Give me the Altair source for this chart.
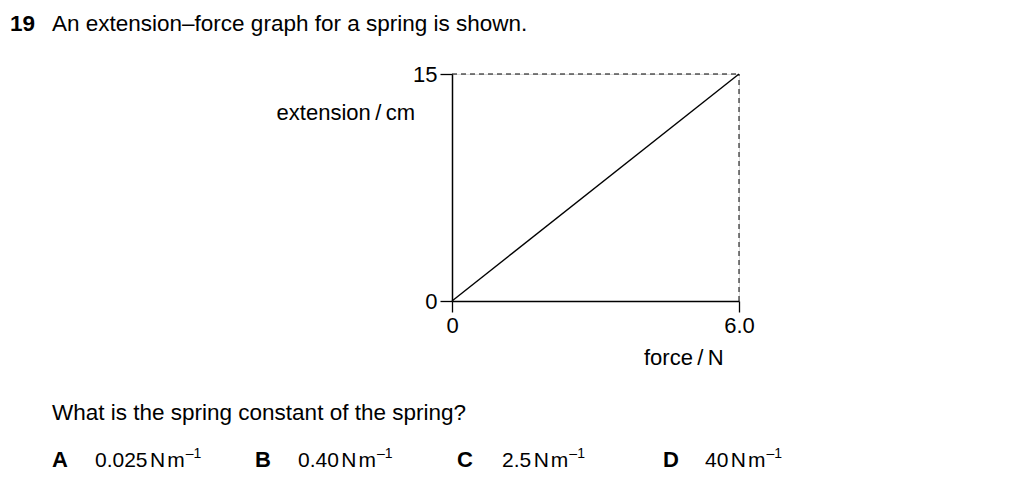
import altair as alt
import pandas as pd

# ---- data ----
force = [0.0, 6.0]            # N
extension = [0.0, 15.0]       # cm
x_ticks = [0.0, 6.0]
y_ticks = [0.0, 15.0]

q_number = "19"
q_title = "An extension\u2013force graph for a spring is shown."
y_title = "extension\u2009/\u2009cm"
x_title = "force\u2009/\u2009N"
question = "What is the spring constant of the spring?"
opt_letters = ["A", "B", "C", "D"]
opt_values = ["0.025", "0.40", "2.5", "40"]
unit_parts = ["N", "m"]
opt_sup = "\u20131"

FONT = "Liberation Sans"
W, H = 287, 227
X0, Y0 = 452, 74  # page position of plot origin (top-left)

# Arial/Liberation advance widths (per 1000 em) for layout of option text
ADV = {**{d: 556 for d in "0123456789"}, ".": 278, "N": 722, "m": 833}


def text_width(s, size):
    return sum(ADV[c] for c in s) * size / 1000.0


line_df = pd.DataFrame({"force": force, "extension": extension})
top_df = pd.DataFrame({"x": [min(force)], "x2": [max(force)], "y": [max(extension)]})
right_df = pd.DataFrame({"x": [max(force)], "y": [min(extension)], "y2": [max(extension)]})

xscale = alt.Scale(domain=[min(force), max(force)], nice=False, zero=False)
yscale = alt.Scale(domain=[min(extension), max(extension)], nice=False, zero=False)

xaxis = alt.Axis(values=x_ticks, labelExpr="datum.value == 0 ? '0' : format(datum.value, '.1f')",
                 title=None, grid=False, tickSize=11, tickWidth=1.3, domainWidth=1.5,
                 domainColor="black", tickColor="black", labelColor="black",
                 labelFont=FONT, labelFontSize=22, labelPadding=3, labelFlush=False)
yaxis = alt.Axis(values=y_ticks, format="d", title=None, grid=False, tickSize=12, tickWidth=1.3,
                 domainWidth=1.5, domainColor="black", tickColor="black", labelColor="black",
                 labelFont=FONT, labelFontSize=22, labelPadding=3, labelFlush=False)

line = alt.Chart(line_df).mark_line(color="black", strokeWidth=1.4).encode(
    x=alt.X("force:Q", scale=xscale, axis=xaxis),
    y=alt.Y("extension:Q", scale=yscale, axis=yaxis),
)

top_rule = alt.Chart(top_df).mark_rule(color="black", strokeWidth=1, strokeDash=[5, 4]).encode(
    x=alt.X("x:Q", scale=xscale), x2="x2:Q", y=alt.Y("y:Q", scale=yscale))
right_rule = alt.Chart(right_df).mark_rule(color="black", strokeWidth=1, strokeDash=[5, 4]).encode(
    x=alt.X("x:Q", scale=xscale), y=alt.Y("y:Q", scale=yscale), y2="y2:Q")


def txt(s, px, py, size=22, align="left", weight="normal"):
    return alt.Chart(pd.DataFrame({"t": [s]})).mark_text(
        font=FONT, fontSize=size, align=align, baseline="alphabetic",
        fontWeight=weight, color="black").encode(
        text="t:N", x=alt.value(px - X0), y=alt.value(py - Y0))


layers = [top_rule, right_rule, line,
          txt(q_number, 10, 31, size=22.5, weight="bold"),
          txt(q_title, 52, 31, size=22.5),
          txt(y_title, 415, 120, align="right"),
          txt(x_title, 644, 365),
          txt(question, 52, 420, size=22.5)]

OPT_SIZE = 21
letter_x = [52, 255, 457, 663]
value_x = [95, 298, 502, 705]
for L, v, lx, vx in zip(opt_letters, opt_values, letter_x, value_x):
    layers.append(txt(L, lx, 467, size=22, weight="bold"))
    layers.append(txt(v, vx, 467, size=OPT_SIZE))
    cx = vx + text_width(v, OPT_SIZE) + 2.5
    for part in unit_parts:
        layers.append(txt(part, cx, 467, size=OPT_SIZE))
        cx += text_width(part, OPT_SIZE) + 2
    layers.append(txt(opt_sup, cx - 1, 458, size=14))

chart = alt.layer(*layers).properties(
    width=W, height=H,
    autosize=alt.AutoSizeParams(type="none"),
    padding={"left": X0 - 8, "top": Y0 - 8, "right": 1008 - (X0 - 8) - W, "bottom": 479 - (Y0 - 8) - H},
).configure_view(stroke=None).configure(background="white")

chart.save("out.html", embed_options={"renderer": "svg", "actions": False})
